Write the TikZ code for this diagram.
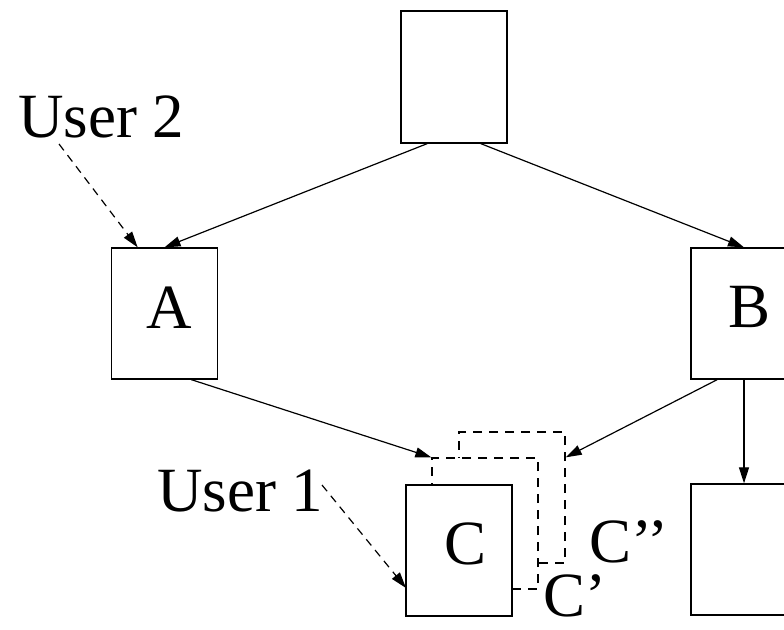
\documentclass[tikz,border=0pt]{standalone}
\usepackage{fontspec}
\setmainfont{Liberation Serif}
\usetikzlibrary{arrows.meta,calc}
\begin{document}
\begin{tikzpicture}[x=1pt,y=-1pt,
  box/.style={draw, line width=1.3pt, minimum width=106pt, minimum height=131pt, inner sep=0pt, fill=white},
  ghost/.style={box, dash pattern=on 9pt off 7pt},
  lbl/.style={font=\fontsize{63}{63}\selectfont, inner sep=0pt, anchor=base west},
  arr/.style={line width=1.2pt, -{Triangle[length=16pt,width=10pt]}},
  darr/.style={arr, dash pattern=on 8pt off 6pt}]
\useasboundingbox (0,0) rectangle (784,629);
\clip (0,0) rectangle (784,629);
% boxes
\node[box, minimum height=132pt] (top) at (454,77) {};
\node[box] (A) at (164.5,313.5) {};
\node[box] (B) at (744,313.5) {};
\node[box] (D) at (744,549.5) {};
\node[ghost] (Cpp) at (512,497.5) {};
\node[ghost] (Cp) at (485,523.5) {};
\node[box] (C) at (459,550.5) {};
% labels
\node[lbl] (u2) at (18,137) {User 2};
\node[lbl] (u1) at (157,511) {User 1};
\node[lbl] (Atxt) at (146,328) {A};
\node[lbl] (Btxt) at (728,327) {B};
\node[lbl] (Ctxt) at (444,564) {C};
\node[lbl] (Cpptxt) at (589,562) {C’’};
\node[lbl] (Cptxt) at (543,616) {C’};
% connectors
\coordinate (u2s) at (59,144);
\coordinate (u1s) at (322,485);
\coordinate (u1e) at (406,588);
\draw[arr] ($(top.south west)!0.25!(top.south east)$) -- (A.north);
\draw[arr] ($(top.south west)!0.75!(top.south east)$) -- (B.north);
\draw[arr] ($(A.south west)!0.75!(A.south east)$) -- (Cp.north west);
\draw[arr] ($(B.south west)!0.25!(B.south east)$) -- (Cpp.east |- Cp.north);
\draw[arr] (B.south) -- (D.north);
\draw[darr] (u2s) -- ($(A.north west)!0.25!(A.north east)$);
\draw[darr] (u1s) -- (u1e);
\end{tikzpicture}
\end{document}
